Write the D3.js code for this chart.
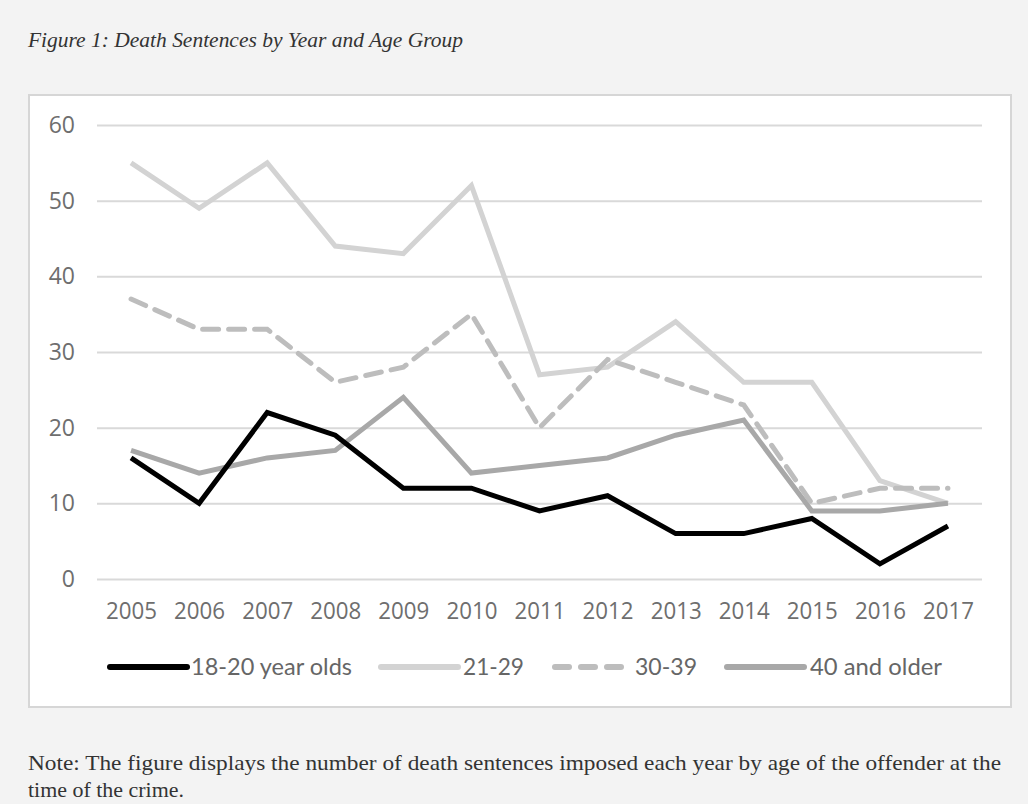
<!DOCTYPE html>
<html><head><meta charset="utf-8">
<script src="https://cdn.jsdelivr.net/npm/d3@7"></script>
<style>
html,body{margin:0;padding:0;background:#f3f3f3;}
svg{display:block;}
</style></head>
<body>
<svg id="c" width="1028" height="804"></svg>
<script>
const years = [2005,2006,2007,2008,2009,2010,2011,2012,2013,2014,2015,2016,2017];
const age18_20 = [16,10,22,19,12,12,9,11,6,6,8,2,7];
const age21_29 = [55,49,55,44,43,52,27,28,34,26,26,13,10];
const age30_39 = [37,33,33,26,28,35,20,29,26,23,10,12,12];
const age40plus = [17,14,16,17,24,14,15,16,19,21,9,9,10];
const yTicks = [0,10,20,30,40,50,60];
const seriesNames = ["18-20 year olds","21-29","30-39","40 and older"];
const titleText = "Figure 1: Death Sentences by Year and Age Group";
const noteLines = ["Note: The figure displays the number of death sentences imposed each year by age of the offender at the","time of the crime."];

const svg = d3.select("#c");
svg.append("rect").attr("width",1028).attr("height",804).attr("fill","#f3f3f3");

svg.append("text").attr("x",28).attr("y",47)
  .attr("font-family","Liberation Serif").attr("font-style","italic")
  .attr("font-size",22).attr("fill","#333").attr("textLength",435).attr("lengthAdjust","spacingAndGlyphs")
  .text(titleText);

// chart box
svg.append("rect").attr("x",29).attr("y",95).attr("width",982).attr("height",612)
  .attr("fill","#fff").attr("stroke","#d6d6d6").attr("stroke-width",2);

const x = d3.scalePoint().domain(years).range([97,982]).padding(0.5);
const y = d3.scaleLinear().domain([0,60]).range([579,125]);

const yAxis = d3.axisLeft(y).tickValues(yTicks).tickSize(-(982-97)).tickPadding(22);
const gy = svg.append("g").attr("transform","translate(97,0)").call(yAxis);
gy.select(".domain").remove();
gy.selectAll(".tick line").attr("stroke","#d9d9d9").attr("stroke-width",2);
gy.selectAll(".tick text").attr("font-family","Open Sans").attr("font-size",23).attr("fill","#6e6e6e");

const xAxis = d3.axisBottom(x).tickSize(0).tickPadding(24);
const gx = svg.append("g").attr("transform","translate(0,579)").call(xAxis);
gx.select(".domain").remove();
gx.selectAll(".tick text").attr("font-family","Open Sans").attr("font-size",23).attr("fill","#6e6e6e")
  .attr("textLength",51).attr("lengthAdjust","spacingAndGlyphs");

const styles = [
  {data:age18_20,color:"#000000",dash:null},
  {data:age21_29,color:"#d3d3d3",dash:null},
  {data:age30_39,color:"#bdbdbd",dash:"16,10"},
  {data:age40plus,color:"#a8a8a8",dash:null}
];
const line = d3.line().x((d,i)=>x(years[i])).y(d=>y(d));
[1,2,3,0].forEach(k=>{
  const s = styles[k];
  svg.append("path").datum(s.data).attr("d",line)
    .attr("fill","none").attr("stroke",s.color).attr("stroke-width",5)
    .attr("stroke-linejoin","miter").attr("stroke-linecap",s.dash?"round":"butt")
    .attr("stroke-dasharray",s.dash);
});

// legend
const legendX = [110,381,555,727];
const legendTextX = [191,463,635,810];
const legendW = [161,61,62,132];
const ly = 667;
styles.forEach((s,k)=>{
  svg.append("line").attr("x1",legendX[k]).attr("x2",legendX[k]+(k===2?73:77))
    .attr("y1",ly).attr("y2",ly).attr("stroke",s.color).attr("stroke-width",6)
    .attr("stroke-linecap","round").attr("stroke-dasharray",s.dash?"14,12":null);
  svg.append("text").attr("x",legendTextX[k]).attr("y",ly+8)
    .attr("font-family","Lato").attr("font-size",23).attr("fill","#666")
    .attr("textLength",legendW[k]).attr("lengthAdjust","spacingAndGlyphs")
    .text(seriesNames[k]);
});

// note
svg.append("text").attr("x",28).attr("y",770)
  .attr("font-family","Liberation Serif").attr("font-size",22).attr("fill","#333")
  .attr("textLength",973).attr("lengthAdjust","spacingAndGlyphs").text(noteLines[0]);
svg.append("text").attr("x",28).attr("y",797)
  .attr("font-family","Liberation Serif").attr("font-size",21).attr("fill","#333")
  .attr("textLength",156).attr("lengthAdjust","spacingAndGlyphs").text(noteLines[1]);
</script>
</body></html>
